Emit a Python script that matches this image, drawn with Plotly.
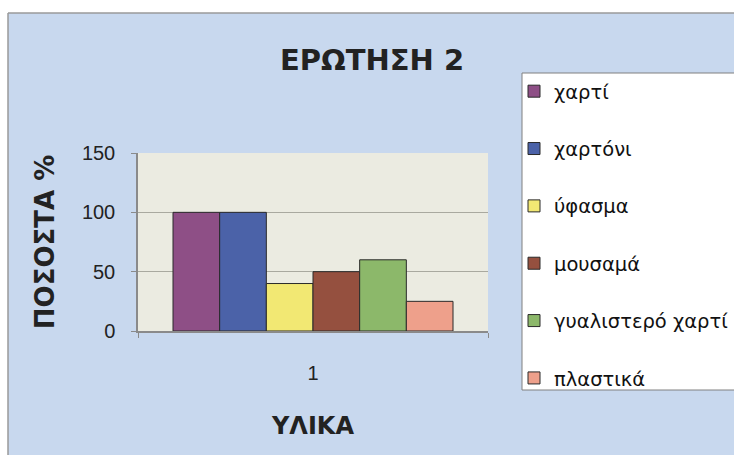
import plotly.graph_objects as go

# ---- data ----
categories = [1]
series_names = ["χαρτί", "χαρτόνι", "ύφασμα", "μουσαμά", "γυαλιστερό χαρτί", "πλαστικά"]
series_values = [100, 100, 40, 50, 60, 25]
series_colors = ["#8e4f86", "#4b62a8", "#f2e873", "#95503f", "#8cb86a", "#eea08b"]
y_ticks = [0, 50, 100, 150]
x_tick_labels = ["1"]

BG = "#c8d8ee"

fig = go.Figure()
for i, (name, val, col) in enumerate(zip(series_names, series_values, series_colors)):
    fig.add_trace(go.Bar(
        x=categories, y=[val], name=name, legendgroup=f"g{i}",
        marker=dict(color=col, line=dict(color="#2a2a2a", width=1)),
    ))

# pixel helpers for layout decorations (plot area: x 138..488, y 153..331)
L, R, T, B = 138, 488, 153, 331
def px(x):
    return (x - L) / (R - L)
def py(y):
    return (B - y) / (B - T)

shapes = [
    # white frame strips at top and left with grey border
    dict(type="rect", xref="paper", yref="paper", x0=-1, x1=3, y0=py(13), y1=3,
         fillcolor="white", line=dict(width=0), layer="above"),
    dict(type="rect", xref="paper", yref="paper", x0=-1, x1=px(8), y0=-2, y1=py(13),
         fillcolor="white", line=dict(width=0), layer="above"),
    dict(type="line", xref="paper", yref="paper", x0=px(8), x1=3, y0=py(13), y1=py(13),
         line=dict(color="#9a9a9a", width=1.5), layer="above"),
    dict(type="line", xref="paper", yref="paper", x0=px(8), x1=px(8), y0=-2, y1=py(13),
         line=dict(color="#9a9a9a", width=1.5), layer="above"),
    # legend box (extends past the right edge)
    dict(type="rect", xref="paper", yref="paper", x0=px(522), x1=px(760), y0=py(390), y1=py(73),
         fillcolor="white", line=dict(color="#808080", width=1), layer="above"),
]

fig.update_layout(
    width=734, height=455,
    margin=dict(l=L, r=734 - R, t=T, b=455 - B, autoexpand=False),
    paper_bgcolor=BG,
    plot_bgcolor="#ebebe1",
    barmode="group", bargap=0.2, bargroupgap=0,
    showlegend=True,
    title=dict(text="ΕΡΩΤΗΣΗ 2", x=372 / 734, xanchor="center", xref="container",
               y=1 - 60 / 455, yanchor="middle", yref="container",
               font=dict(family="DejaVu Sans", size=29, color="#222222", weight="bold")),
    legend=dict(x=px(514), xanchor="left", y=py(72), yanchor="top",
                bgcolor="rgba(0,0,0,0)", borderwidth=0, maxheight=420,
                traceorder="grouped", tracegroupgap=29,
                font=dict(family="DejaVu Sans", size=19.5, color="#111111")),
    xaxis=dict(range=[0.5, 1.5], tickvals=categories, ticktext=x_tick_labels,
               ticks="", showgrid=False, zeroline=False,
               showline=True, linecolor="#8a8a8a", linewidth=1.5,
               ticklabelstandoff=23,
               tickfont=dict(family="Liberation Sans", size=20, color="#222222"),
               minor=dict(tickvals=[0.5, 1.5], ticks="outside", ticklen=5, tickcolor="#8a8a8a", showgrid=False),
               title=dict(text="ΥΛΙΚΑ", standoff=34,
                          font=dict(family="DejaVu Sans", size=24, color="#222222", weight="bold"))),
    yaxis=dict(range=[0, 150], tickvals=y_ticks, ticks="outside", ticklen=5, tickcolor="#8a8a8a",
               showline=True, linecolor="#8a8a8a", linewidth=1.5,
               showgrid=True, gridcolor="#a9a99f", gridwidth=1, zeroline=False,
               ticklabelstandoff=12,
               tickfont=dict(family="Liberation Sans", size=20, color="#222222"),
               title=dict(text="ΠΟΣΟΣΤΑ %", standoff=20,
                          font=dict(family="DejaVu Sans", size=26, color="#222222", weight="bold"))),
    shapes=shapes,
)

fig.write_html("out.html", config={"displayModeBar": False},
               post_script="document.body.style.margin='0';document.body.style.overflow='hidden';")
